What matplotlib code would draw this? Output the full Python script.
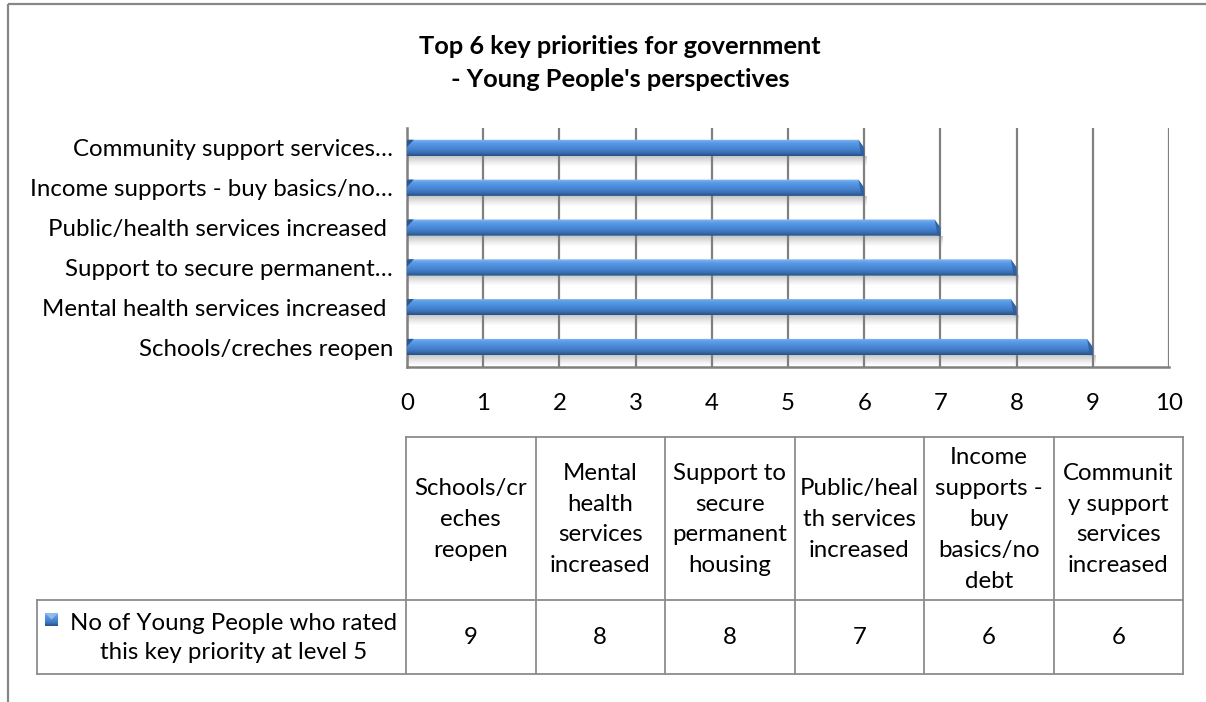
import numpy as np
import matplotlib
matplotlib.use("Agg")
import matplotlib.pyplot as plt
from matplotlib.patches import Polygon
from matplotlib.colors import to_rgb

plt.rcParams['font.family'] = ['Lato', 'DejaVu Sans']

# ---------------- data ----------------
categories = ["Schools/creches reopen", "Mental health services increased",
              "Support to secure permanent housing", "Public/health services increased",
              "Income supports - buy basics/no debt", "Community support services increased"]
axis_labels = ["Schools/creches reopen", "Mental health services increased ",
               "Support to secure permanent\u2026", "Public/health services increased ",
               "Income supports - buy basics/no\u2026", "Community support services\u2026"]
table_headers = ["Schools/cr\neches\nreopen", "Mental\nhealth\nservices\nincreased",
                 "Support to\nsecure\npermanent\nhousing", "Public/heal\nth services\nincreased",
                 "Income\nsupports -\nbuy\nbasics/no\ndebt", "Communit\ny support\nservices\nincreased"]
values = [9, 8, 8, 7, 6, 6]
series_name = "No of Young People who rated\nthis key priority at level 5"
title = "Top 6 key priorities for government\n- Young People's perspectives"
x_ticks = list(range(0, 11))

W, H = 1206, 702
fig = plt.figure(figsize=(W / 100, H / 100), dpi=100)
fig.patch.set_facecolor("white")

FS = 17.3

# plot area in pixels
L, R, T, B = 407, 1169, 128, 367
ax = fig.add_axes([L / W, 1 - B / H, (R - L) / W, (B - T) / H])
ax.set_xlim(0, 10)
n = len(values)
ax.set_ylim(-0.5, n - 0.5)

grid_c = "#808080"
for xv in x_ticks:
    ax.axvline(xv, color=grid_c, lw=1.6, zorder=1)
for s in ["top", "right"]:
    ax.spines[s].set_visible(False)
for s in ["left", "bottom"]:
    ax.spines[s].set_color(grid_c)
    ax.spines[s].set_linewidth(1.8)

# bar gradient (top -> bottom)
stops = [0.0, 0.08, 0.2, 0.45, 0.62, 0.8, 0.92, 1.0]
cols = ["#9cc3ee", "#73aef0", "#5c9ce6", "#4c8cdc", "#4480cc", "#3a6fb2", "#2e5c96", "#274f82"]
rgb = np.array([to_rgb(c) for c in cols])
t = np.linspace(0, 1, 64)
grad = np.stack([np.interp(t, stops, rgb[:, k]) for k in range(3)], axis=-1)
grad = grad[::-1][:, None, :]  # bottom first for origin lower

shadow = np.linspace(0, 1, 32)
shadow_img = np.ones((32, 1, 4))
shadow_img[..., :3] = 0.5
shadow_img[:, 0, 3] = 0.45 * shadow ** 1.3  # darker near bar (top)

h = 0.41
bev = 0.075
for i, v in enumerate(values):
    y0, y1 = i - h / 2, i + h / 2
    # shadow below bar
    ax.imshow(shadow_img, extent=(0.0, v + 0.03, y0 - 0.27, y0), origin="lower",
              aspect="auto", interpolation="bilinear", zorder=2)
    im = ax.imshow(grad, extent=(0, v, y0, y1), origin="lower", aspect="auto",
                   interpolation="bilinear", zorder=3)
    clip = Polygon([(0, y0), (0, y1), (v - bev, y1), (v, y1 - 0.5 * h), (v, y0)],
                   closed=True, transform=ax.transData)
    im.set_clip_path(clip)
    # bevel at right end
    ax.add_patch(Polygon([(v - bev, y1), (v, y1 - 0.5 * h), (v, y0), (v - bev * 0.5, y0)],
                         closed=True, facecolor="#2f5f9a", edgecolor="none", alpha=0.85, zorder=4))
    # dark notch at left end
    ax.add_patch(Polygon([(0, y1), (0.09, y1), (0, y1 - 0.45 * h)],
                         closed=True, facecolor="#2b5890", edgecolor="none", zorder=4))

ax.set_yticks(range(n))
ax.set_yticklabels(axis_labels, fontsize=FS)
ax.set_xticks(x_ticks)
ax.set_xticklabels([str(x) for x in x_ticks], fontsize=FS)
ax.tick_params(axis="y", length=0, pad=10)
ax.tick_params(axis="x", length=0, pad=19)
ax.set_facecolor("white")

# overlay in pixel coordinates for title, border and data table
ov = fig.add_axes([0, 0, 1, 1], zorder=-1)
ov.set_xlim(0, W)
ov.set_ylim(H, 0)
ov.axis("off")

ov.text(620, 63, title, ha="center", va="center", fontsize=18.3, fontweight="bold",
        linespacing=1.55)

bc = "#878787"
ov.plot([7.5, 7.5], [3.5, H + 5], color=bc, lw=1.6, solid_capstyle="butt")
ov.plot([7.5, W + 5], [3.5, 3.5], color=bc, lw=1.6, solid_capstyle="butt")

tc = "#8c8c8c"
tl, cw = 406, 129.5
hy0, hy1, vy1 = 437, 600, 674
lx = 37
tr = tl + cw * n
ov.plot([tl, tr], [hy0, hy0], color=tc, lw=1.3)
ov.plot([lx, tr], [hy1, hy1], color=tc, lw=1.3)
ov.plot([lx, tr], [vy1, vy1], color=tc, lw=1.3)
ov.plot([lx, lx], [hy1, vy1], color=tc, lw=1.3)
for j in range(n + 1):
    xx = tl + cw * j
    ov.plot([xx, xx], [hy0, vy1], color=tc, lw=1.3)

for j in range(n):
    cx = tl + cw * (j + 0.5)
    ov.text(cx, (hy0 + hy1) / 2 + 1, table_headers[j], ha="center", va="center",
            fontsize=FS, linespacing=1.58)
    ov.text(cx, (hy1 + vy1) / 2, str(values[j]), ha="center", va="center", fontsize=FS)

ov.text(234, (hy1 + vy1) / 2 + 1, series_name, ha="center", va="center",
        fontsize=FS, linespacing=1.45)
# legend key
ov.imshow(grad[::-1], extent=(45, 58, 626, 613), aspect="auto",
          interpolation="bilinear", zorder=3)
ov.set_xlim(0, W)
ov.set_ylim(H, 0)
ov.add_patch(Polygon([(45, 613), (58, 613), (51.5, 619.5)], closed=True,
                     facecolor="#8fbbea", edgecolor="none", zorder=4))

fig.savefig("out.png", dpi=100)
